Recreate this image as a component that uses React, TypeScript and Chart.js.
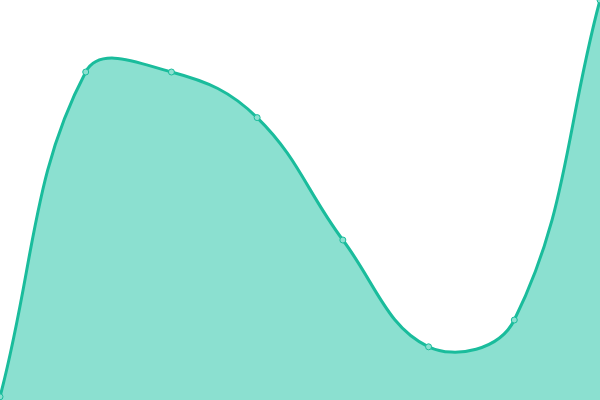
import React, { useEffect, useRef } from "react";
import { Chart, registerables } from "chart.js";

Chart.register(...registerables);

const labels = ["1", "2", "3", "4", "5", "6", "7", "8"];
const values = [0.8, 82, 82, 70.6, 40, 13.3, 20, 100];

export default function App() {
  const ref = useRef<HTMLCanvasElement>(null);
  useEffect(() => {
    document.body.style.margin = "0";
    const chart = new Chart(ref.current!, {
      type: "line",
      data: {
        labels,
        datasets: [
          {
            data: values,
            fill: true,
            backgroundColor: "#8be0d0",
            borderColor: "#1abc9c",
            borderWidth: 3,
            tension: 0.4,
            pointRadius: 3,
            pointBorderWidth: 1,
            pointBackgroundColor: "#8be0d0",
            pointBorderColor: "#1abc9c",
          },
        ],
      },
      options: {
        animation: false,
        responsive: false,
        maintainAspectRatio: false,
        layout: { padding: 0, autoPadding: false },
        plugins: { legend: { display: false }, tooltip: { enabled: false } },
        scales: {
          x: { display: false },
          y: { display: false, min: 0, max: 100 },
        },
      },
    });
    return () => chart.destroy();
  }, []);
  return (
    <div style={{ position: "fixed", left: 0, top: 0, width: 600, height: 400 }}>
      <canvas ref={ref} width={600} height={400} style={{ display: "block" }} />
    </div>
  );
}
